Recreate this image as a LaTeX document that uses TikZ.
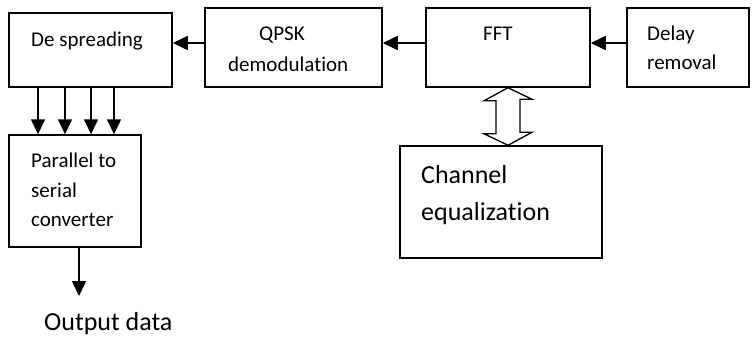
\documentclass[tikz,border=0pt]{standalone}
\usepackage{fontspec}
\setmainfont{Carlito}[Ligatures=NoCommon]
\usetikzlibrary{arrows.meta}
\begin{document}
\begin{tikzpicture}[x=1pt,y=-1pt,
    box/.style={draw,line width=1.5pt,inner sep=0pt},
    txt/.style={anchor=base west,inner sep=0pt,font=\fontsize{21}{29}\selectfont},
    bigtxt/.style={anchor=base west,inner sep=0pt,font=\fontsize{26}{37}\selectfont},
    arr/.style={line width=1.6pt,-{Triangle[length=15pt,width=14pt]}}]
    \useasboundingbox (0,0) rectangle (755,337);
    \node[box,minimum width=163,minimum height=74] (desp) at (90.5,50) {};
    \node[box,minimum width=177,minimum height=79] (qpsk) at (293.5,47.5) {};
    \node[box,minimum width=164,minimum height=79] (fft) at (508,47.5) {};
    \node[box,minimum width=122,minimum height=79] (delay) at (688,47.5) {};
    \node[box,minimum width=132,minimum height=112] (ps) at (75,191) {};
    \node[box,minimum width=202,minimum height=112] (cheq) at (501,202) {};
    \node[txt] (desptxt) at (31,47) {De spreading};
    \node[txt] (qpsktxt) at (259,41) {QPSK};
    \node[txt] (demodtxt) at (228,72) {demodulation};
    \node[txt] (ffttxt) at (483,41) {FFT};
    \node[txt] (delaytxt) at (647,41) {Delay};
    \node[txt] (remtxt) at (647,70) {removal};
    \node[txt] (pstxt) at (31,167) {Parallel to};
    \node[txt] (sertxt) at (31,197) {serial};
    \node[txt] (convtxt) at (31,226) {converter};
    \node[bigtxt] (chtxt) at (421,183) {Channel};
    \node[bigtxt] (eqtxt) at (421,220) {equalization};
    \node[bigtxt] (outtxt) at (44,330) {Output data};
    \coordinate (out) at (79,296);
    \draw[arr] (delay.west |- 0,43) -- (fft.east |- 0,43);
    \draw[arr] (fft.west |- 0,43) -- (qpsk.east |- 0,43);
    \draw[arr] (qpsk.west |- 0,43) -- (desp.east |- 0,43);
    \foreach \x in {38,65,91,114}
        \draw[arr] (\x,0 |- desp.south) -- (\x,0 |- ps.north);
    \draw[arr] (out |- ps.south) -- (out);
    \draw[line width=1.3pt] (fft.south) -- ++(-24,13) -- ++(12,0) -- ++(0,33) -- ++(-12,0)
        -- (cheq.north -| fft.south) -- ++(24,-13) -- ++(-12,0) -- ++(0,-33) -- ++(12,0) -- cycle;
\end{tikzpicture}
\end{document}
